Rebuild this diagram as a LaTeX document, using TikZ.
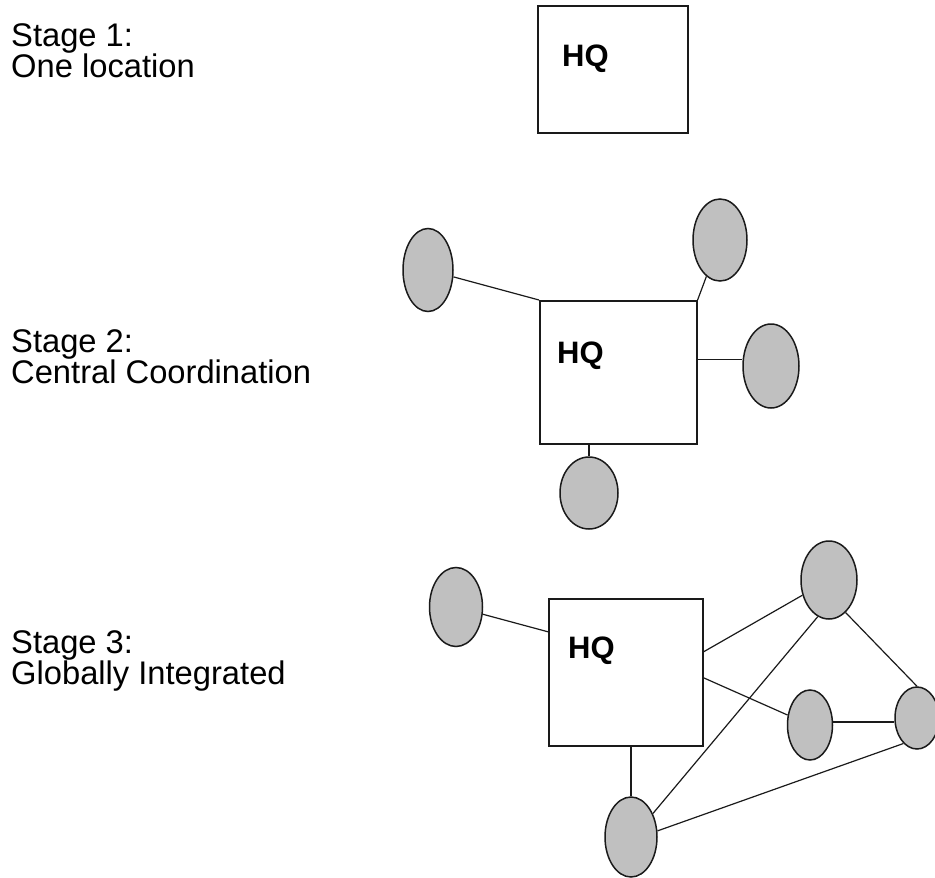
\documentclass[tikz,border=0pt]{standalone}
\usepackage{fontspec}
\setmainfont{Liberation Sans}
\usetikzlibrary{shapes.geometric}
\definecolor{sitegray}{HTML}{C0C0C0}
\definecolor{inkcol}{HTML}{1A1A1A}
\tikzset{
  hqbox/.style={draw=inkcol, line width=1.6pt, fill=white, inner sep=0pt, anchor=north west},
  site/.style={ellipse, draw=inkcol, fill=sitegray, line width=1.5pt, inner sep=0pt},
  link/.style={draw=inkcol, line width=1.2pt},
  stagetxt/.style={anchor=base west, inner sep=0pt, font=\fontsize{32.7}{31}\selectfont},
  hqtxt/.style={anchor=base west, inner sep=0pt, font=\fontsize{31}{31}\selectfont\bfseries}
}
\begin{document}
\begin{tikzpicture}[x=1pt,y=-1pt]
\useasboundingbox (0,0) rectangle (935,878);
% ---------- labels ----------
\node[stagetxt] (t1a) at (11,46) {Stage 1:};
\node[stagetxt] (t1b) at (11,77) {One location};
\node[stagetxt] (t2a) at (11,352) {Stage 2:};
\node[stagetxt] (t2b) at (11,383) {Central Coordination};
\node[stagetxt] (t3a) at (11,653) {Stage 3:};
\node[stagetxt] (t3b) at (11,684) {Globally Integrated};
% ---------- stage 1 ----------
\node[hqbox, minimum width=150pt, minimum height=127pt] (b1) at (537,5) {};
\node[hqtxt] (h1) at (562,66) {HQ};
% ---------- stage 2 ----------
\node[hqbox, minimum width=157pt, minimum height=143pt] (b2) at (539,300) {};
\node[hqtxt] (h2) at (557,363) {HQ};
\node[site, minimum width=50pt, minimum height=83pt] (s2a) at (428,270) {};
\node[site, minimum width=54pt, minimum height=82pt] (s2b) at (720,240) {};
\node[site, minimum width=56pt, minimum height=84pt] (s2c) at (771,366) {};
\node[site, minimum width=58pt, minimum height=72pt] (s2d) at (589,493) {};
\draw[link] (s2a) -- (b2.north west);
\draw[link] (s2b) -- (b2.north east);
\coordinate (c2r) at ([yshift=12.5pt]b2.east);
\draw[link] (c2r) -- (c2r -| s2c.west);
\draw[link] (b2.south -| s2d.north) -- (s2d.north);
% ---------- stage 3 ----------
\node[hqbox, minimum width=154pt, minimum height=147pt] (b3) at (548,598) {};
\node[hqtxt] (h3) at (568,658) {HQ};
\node[site, minimum width=53pt, minimum height=79pt] (s3a) at (456,607) {};
\node[site, minimum width=56pt, minimum height=78pt] (s3b) at (829,580) {};
\node[site, minimum width=45pt, minimum height=70pt] (s3c) at (810,725) {};
\node[site, minimum width=44pt, minimum height=62pt] (s3d) at (917,718) {};
\node[site, minimum width=52pt, minimum height=80pt] (s3e) at (631,837) {};
\coordinate (c3l) at ([yshift=40.5pt]b3.west);
\draw[link] (s3a) -- (c3l);
\coordinate (c3r1) at ([yshift=20.5pt]b3.east);
\draw[link] (c3r1) -- (s3b);
\coordinate (c3r2) at ([yshift=-5.5pt]b3.east);
\draw[link] (c3r2) -- (s3c);
\draw[link] (b3.south -| s3e.north) -- (s3e.north);
\draw[link] (s3e.47) -- (s3b.253);
\draw[link] (s3b.297) -- (s3d.90);
\coordinate (c3m) at ([yshift=3pt]s3c.east);
\draw[link] (c3m) -- (c3m -| s3d.west);
\draw[link] (s3e.13) -- (s3d.242);
\end{tikzpicture}
\end{document}
